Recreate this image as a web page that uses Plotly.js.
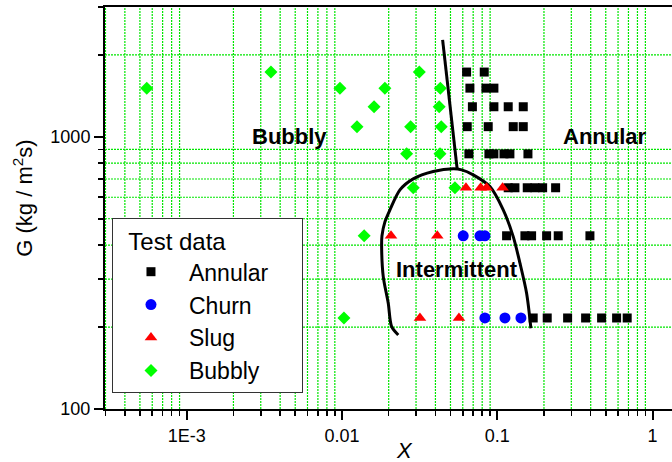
<!DOCTYPE html>
<html><head><meta charset="utf-8">
<script src="https://cdn.plot.ly/plotly-3.0.1.min.js"></script>
<style>html,body{margin:0;padding:0;background:#fff;overflow:hidden}</style>
</head><body><div id="chart" style="width:672px;height:462px"></div>
<script>
// Annular test data (X, G)
const annularX = [0.0635,0.0825, 0.0667,0.0846,0.0952, 0.0692,0.0952,0.1177,0.1471,
  0.0641,0.0875,0.1268,0.1471, 0.0657,0.0884,0.0952,0.1105,0.1207,0.1577,
  0.1177,0.1300,0.1561,0.1749,0.1961,0.2377, 0.1149,0.1508,0.1665,0.2080,0.2471,0.3954,
  0.1705,0.2099,0.2840,0.3709,0.4701,0.5872,0.6871];
const annularG = [1730,1730, 1510,1510,1510, 1290,1290,1290,1290,
  1090,1090,1090,1090, 866,866,866,866,866,866,
  650,650,650,650,650,650, 433,433,433,433,433,433,
  216,216,216,216,216,216,216];
// Churn
const churnX = [0.0604,0.0774,0.0833, 0.0833,0.1121,0.1421];
const churnG = [433,433,433, 216,216,216];
// Slug
const slugX = [0.0629,0.0782,0.0854,0.1083, 0.0207,0.0411, 0.0318,0.0567];
const slugG = [650,650,650,650, 433,433, 216,216];
// Bubbly
const bubblyX = [0.000553,0.00349,0.00971,0.0189,0.0430,0.0315,0.0161,0.0423,0.0125,0.0277,0.0436,0.0261,0.0428,0.0288,0.0534,0.0139,0.0103];
const bubblyG = [1510,1730,1510,1510,1510,1730,1290,1290,1090,1090,1090,866,866,650,650,433,216];
// Transition boundaries
const boundaryUpperX = [0.0445, 0.0552];
const boundaryUpperG = [2273, 763];
const boundaryArcX = [0.02305,0.02089,0.01987,0.01845,0.01801,0.0181,0.01891,0.02037,0.02363,0.02878,0.03872,0.05209,0.05901,0.07006,0.08974,0.1093,0.1268,0.1401,0.1546,0.1648];
const boundaryArcG = [187.1,200.7,244.6,306.5,395.1,432.5,486.9,539.1,638.6,700.9,745.6,762.9,756.4,725.0,656.6,539.1,430.0,343.4,266.3,198.0];
// Tick labels
const xTickVals = [0.001, 0.01, 0.1, 1];
const xTickText = ['1E-3', '0.01', '0.1', '1'];
const yTickVals = [100, 1000];
const yTickText = ['100', '1000'];
// Region labels
const regionLabels = ['Bubbly', 'Annular', 'Intermittent'];
const regionX = [0.00462, 0.494, 0.055];
const regionG = [1000, 1000, 325];

const FONT = 'Liberation Sans';
const GRID = '#00e600';
const X_RANGE = [-3.526, 0.1256];
const Y_RANGE = [2, Math.log10(3000)];

const traces = [
  {x: boundaryUpperX, y: boundaryUpperG, mode: 'lines', line: {color: '#000', width: 3}, showlegend: false, hoverinfo: 'skip'},
  {x: boundaryArcX, y: boundaryArcG, mode: 'lines', line: {color: '#000', width: 3, shape: 'spline', smoothing: 0.8}, showlegend: false, hoverinfo: 'skip'},
  {x: annularX, y: annularG, mode: 'markers', name: 'Annular', marker: {symbol: 'square', size: 9, color: '#000'}},
  {x: churnX, y: churnG, mode: 'markers', name: 'Churn', marker: {symbol: 'circle', size: 11, color: '#0000ff'}},
  {x: slugX, y: slugG, mode: 'markers', name: 'Slug', marker: {symbol: 'triangle-up', size: 11, color: '#ff0000'}},
  {x: bubblyX, y: bubblyG, mode: 'markers', name: 'Bubbly', marker: {symbol: 'diamond', size: 10, color: '#00ff00'}}
];

function minorSpec() {
  return {ticks: 'outside', ticklen: 5, tickwidth: 1.5, tickcolor: '#000', showgrid: false, dtick: 'D1'};
}
function axisSpec(range, vals, text) {
  return {type: 'log', range: range, tickmode: 'array', tickvals: vals, ticktext: text,
    ticks: 'outside', ticklen: 9, tickwidth: 2, tickcolor: '#000', showline: true, linecolor: '#000', linewidth: 2,
    showgrid: false, zeroline: false, layer: 'above traces',
    tickfont: {family: FONT, size: 18, color: '#000'}, minor: minorSpec()};
}
const xaxis = axisSpec(X_RANGE, xTickVals, xTickText);
xaxis.mirror = true;
const yaxis = axisSpec(Y_RANGE, yTickVals, yTickText);

// minor grid lines (2..9 within each decade, none at decades)
function minorGridValues(range) {
  const out = [];
  for (let d = Math.floor(range[0]); d <= Math.ceil(range[1]); d++) {
    for (let m = 2; m <= 9; m++) {
      const lv = d + Math.log10(m);
      if (lv > range[0] && lv < range[1]) out.push(Math.pow(10, d) * m);
    }
  }
  return out;
}
const gridLine = {color: GRID, width: 1.2, dash: '2px,1px'};
const gridShapes = [];
minorGridValues(X_RANGE).forEach(v => gridShapes.push({type: 'line', xref: 'x', yref: 'paper', x0: v, x1: v, y0: 0, y1: 1, layer: 'below', line: gridLine}));
minorGridValues(Y_RANGE).forEach(v => gridShapes.push({type: 'line', xref: 'paper', yref: 'y', x0: 0, x1: 1, y0: v, y1: v, layer: 'below', line: gridLine}));

const NB = '\u00a0';
const layout = {
  width: 672, height: 462,
  margin: {l: 105, r: 0, t: 7, b: 53},
  paper_bgcolor: '#fff', plot_bgcolor: '#fff',
  font: {family: FONT, color: '#000'},
  xaxis: xaxis, yaxis: yaxis,
  shapes: gridShapes,
  legend: {x: 0.0123, y: 0.475, xanchor: 'left', yanchor: 'top', bgcolor: '#fff', bordercolor: '#333', borderwidth: 1,
    itemwidth: 66,
    font: {family: FONT, size: 23, color: '#000'},
    title: {text: NB + NB + 'Test data' + NB.repeat(11), font: {family: FONT, size: 24, color: '#000'}}},
  annotations: regionLabels.map((t, i) => ({x: Math.log10(regionX[i]), y: Math.log10(regionG[i]), xref: 'x', yref: 'y', text: '<b>' + t + '</b>', showarrow: false, font: {family: FONT, size: 22, color: '#000'}}))
    .concat([
      {xref: 'paper', yref: 'paper', x: -0.145, y: 0.525, xanchor: 'center', yanchor: 'middle', textangle: -90, showarrow: false, text: 'G (kg / m<sup>2</sup>s)', font: {family: FONT, size: 22, color: '#000'}},
      {xref: 'paper', yref: 'paper', x: 0.529, y: -0.102, xanchor: 'center', yanchor: 'middle', showarrow: false, text: '<i>X</i>', font: {family: FONT, size: 22, color: '#000'}}
    ])
};
Plotly.newPlot('chart', traces, layout, {displayModeBar: false, staticPlot: true});
</script>
</body></html>
